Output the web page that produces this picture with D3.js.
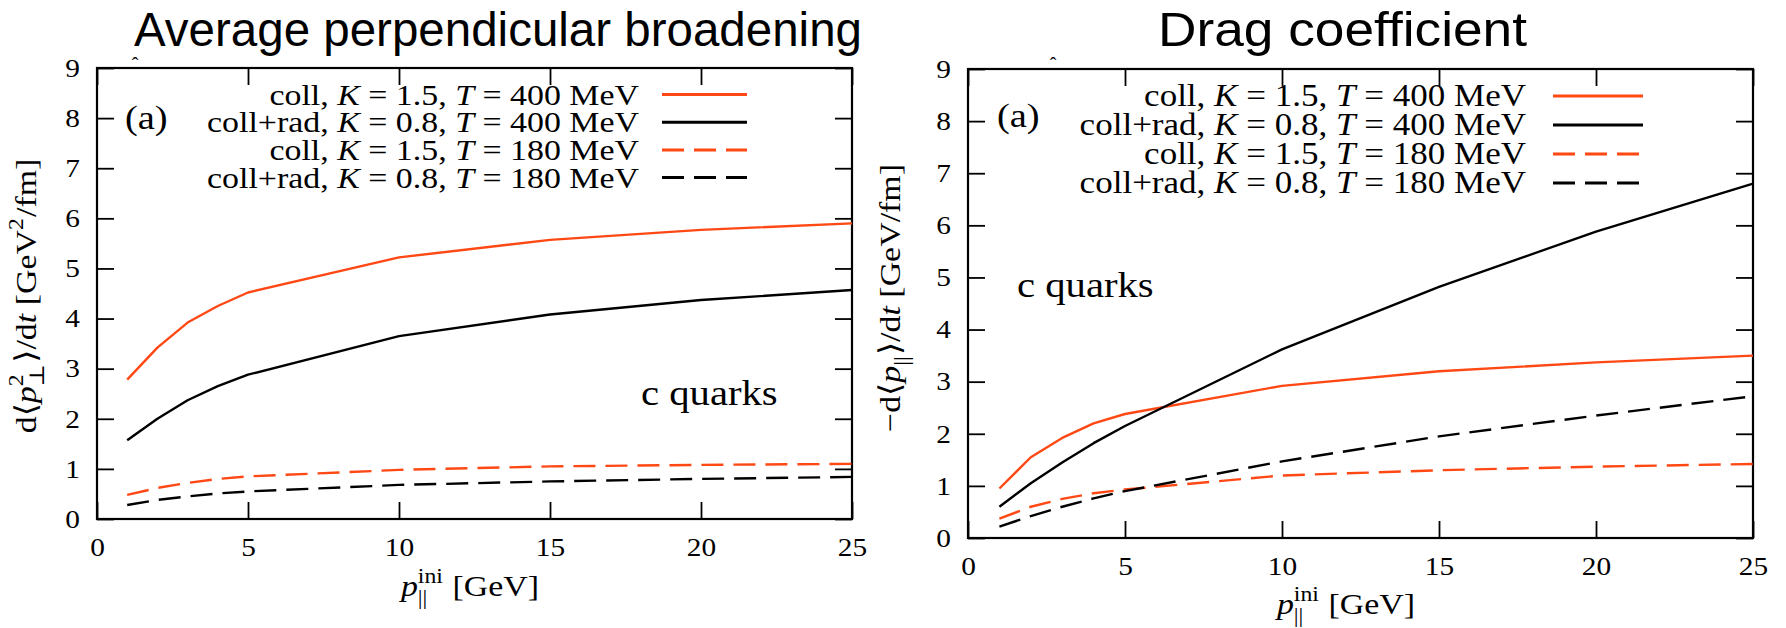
<!DOCTYPE html>
<html>
<head>
<meta charset="utf-8">
<script src="https://cdn.jsdelivr.net/npm/d3@7"></script>
<style>
  html, body { margin: 0; padding: 0; background: #fff; }
  svg { display: block; }
</style>
</head>
<body>
<svg id="chart" width="1786" height="628"></svg>
<script>
// initial longitudinal momentum grid (GeV)
const pIni = [1, 2, 3, 4, 5, 10, 15, 20, 25];

// average transverse broadening d<p_perp^2>/dt [GeV^2/fm]
const broadCollT400 = [2.78, 3.42, 3.92, 4.25, 4.52, 5.22, 5.57, 5.77, 5.90];
const broadRadT400  = [1.57, 2.00, 2.37, 2.65, 2.88, 3.65, 4.08, 4.37, 4.57];
const broadCollT180 = [0.48, 0.62, 0.72, 0.80, 0.85, 0.98, 1.05, 1.08, 1.10];
const broadRadT180  = [0.28, 0.38, 0.45, 0.51, 0.55, 0.68, 0.75, 0.80, 0.84];

// drag coefficient -d<p_par>/dt [GeV/fm]
const dragCollT400 = [0.95, 1.55, 1.92, 2.20, 2.38, 2.92, 3.20, 3.37, 3.50];
const dragRadT400  = [0.60, 1.05, 1.45, 1.82, 2.15, 3.62, 4.82, 5.88, 6.80];
const dragCollT180 = [0.37, 0.60, 0.75, 0.86, 0.93, 1.20, 1.30, 1.37, 1.42];
const dragRadT180  = [0.22, 0.42, 0.60, 0.76, 0.90, 1.47, 1.95, 2.35, 2.72];

const xTicks = [0, 5, 10, 15, 20, 25];
const yTicks = [0, 1, 2, 3, 4, 5, 6, 7, 8, 9];

const seriesLabels = [
  "coll, K = 1.5, T = 400 MeV",
  "coll+rad, K = 0.8, T = 400 MeV",
  "coll, K = 1.5, T = 180 MeV",
  "coll+rad, K = 0.8, T = 180 MeV"
];

const titles = ["Average perpendicular broadening", "Drag coefficient"];

// ---------------------------------------------------------------
const RED = "#ff4814";
const seriesColors = [RED, "#000", RED, "#000"];
const seriesDash = [null, null, "22,10", "22,10"];
const SERIF = "'Liberation Serif', 'Times New Roman', 'DejaVu Serif', serif";
const SANS = "'Liberation Sans', Arial, Helvetica, sans-serif";
const STRETCH = 1.13;   // widen the Times glyphs towards Computer Modern proportions
const TICK = 17;

const svg = d3.select("#chart");
svg.append("defs").append("clipPath").attr("id", "page")
  .append("rect").attr("x", 0).attr("y", 0).attr("width", 1771).attr("height", 628);
const root = svg.append("g").attr("clip-path", "url(#page)");

// text with italic maths letters and sub/superscripts
function rich(text, parts, fs) {
  let shift = 0, pendingDx = 0;
  parts.forEach(p => {
    if (p.stack) {
      const ss = fs * 0.7;
      const up = -0.42 * fs, down = 0.26 * fs;
      const sup = text.append("tspan").attr("font-size", ss).attr("dy", up - shift).attr("dx", pendingDx).text(p.sup);
      shift = up; pendingDx = 0;
      const supW = sup.node().getComputedTextLength();
      const sub = text.append("tspan").attr("font-size", ss).attr("dx", -supW).attr("dy", down - shift).text(p.sub);
      shift = down;
      const subW = sub.node().getComputedTextLength();
      pendingDx = Math.max(0, supW - subW) + 1;
    } else if (p.sup || p.sub) {
      const ss = fs * 0.7;
      const off = p.sup ? -0.42 * fs : 0.26 * fs;
      text.append("tspan").attr("font-size", ss).attr("dy", off - shift).attr("dx", pendingDx).text(p.sup || p.sub);
      shift = off; pendingDx = 1;
    } else {
      const dy = -shift; shift = 0;
      text.append("tspan").attr("dy", dy).attr("dx", pendingDx)
        .attr("font-style", p.it ? "italic" : "normal").text(p.t);
      pendingDx = 0;
    }
  });
}

function legendParts(label) {
  return label.split(/([KT])/).filter(s => s.length).map(s => ({ t: s, it: s === "K" || s === "T" }));
}

function serifGroup(parent, x, y, rot) {
  return parent.append("g")
    .attr("transform", `translate(${x},${y}) rotate(${rot || 0}) scale(${STRETCH},1)`);
}

const panels = [
  {
    left: 97, right: 852, top: 68, bottom: 519,
    series: [broadCollT400, broadRadT400, broadCollT180, broadRadT180],
    title: titles[0], titleX: 134, titleW: 728,
    legRight: 639, legX0: 662, legX1: 747, legRow0: 94.5, legStep: 27.7, legFs: 30,
    aX: 125, aY: 129, cqX: 641, cqY: 405, hatX: 135,
    yLabelX: 36, yLabelY: 296,
    yLabel: [{ t: "d⟨" }, { t: "p", it: true }, { stack: true, sup: "2", sub: "⊥" }, { t: "⟩/d" }, { t: "t", it: true },
             { t: " [GeV" }, { sup: "2" }, { t: "/fm]" }],
    xLabelX: 470, xLabelY: 596
  },
  {
    left: 968, right: 1753, top: 69, bottom: 538,
    series: [dragCollT400, dragRadT400, dragCollT180, dragRadT180],
    title: titles[1], titleX: 1158, titleW: 369,
    legRight: 1526, legX0: 1553, legX1: 1643, legRow0: 96, legStep: 29, legFs: 31,
    aX: 997, aY: 127, cqX: 1017, cqY: 297, hatX: 1053,
    yLabelX: 900, yLabelY: 298,
    yLabel: [{ t: "−d⟨" }, { t: "p", it: true }, { sub: "||" }, { t: "⟩/d" }, { t: "t", it: true }, { t: " [GeV/fm]" }],
    xLabelX: 1346, xLabelY: 614
  }
];

panels.forEach(cfg => {
  const x = d3.scaleLinear().domain([0, 25]).range([cfg.left, cfg.right]);
  const y = d3.scaleLinear().domain([0, 9]).range([cfg.bottom, cfg.top]);
  const g = root.append("g");

  // title
  g.append("text")
    .attr("x", cfg.titleX).attr("y", 46)
    .attr("font-family", SANS).attr("font-size", 48)
    .attr("textLength", cfg.titleW).attr("lengthAdjust", "spacingAndGlyphs")
    .text(cfg.title);

  // tick marks on all four sides, labels on bottom and left
  const styleAxis = (sel, labels) => {
    sel.select(".domain").remove();
    sel.selectAll(".tick line").attr("stroke", "#000").attr("stroke-width", 1.8);
    sel.selectAll(".tick text")
      .attr("font-family", SERIF).attr("font-size", labels ? 26 : 0).attr("fill", "#000");
    sel.attr("font-family", null).attr("font-size", null);
  };
  g.append("g").attr("transform", `translate(0,${cfg.bottom})`)
    .call(d3.axisBottom(x).tickValues(xTicks).tickSizeInner(-TICK).tickSizeOuter(0).tickPadding(19))
    .call(s => styleAxis(s, true))
    .call(s => s.selectAll(".tick text").attr("transform", `scale(${STRETCH},1)`));
  g.append("g").attr("transform", `translate(0,${cfg.top})`)
    .call(d3.axisTop(x).tickValues(xTicks).tickSizeInner(-TICK).tickSizeOuter(0).tickFormat(""))
    .call(s => styleAxis(s, false));
  g.append("g").attr("transform", `translate(${cfg.left},0)`)
    .call(d3.axisLeft(y).tickValues(yTicks).tickSizeInner(-TICK).tickSizeOuter(0).tickPadding(15))
    .call(s => styleAxis(s, true))
    .call(s => s.selectAll(".tick text").attr("transform", `scale(${STRETCH},1)`));
  g.append("g").attr("transform", `translate(${cfg.right},0)`)
    .call(d3.axisRight(y).tickValues(yTicks).tickSizeInner(-TICK).tickSizeOuter(0).tickFormat(""))
    .call(s => styleAxis(s, false));

  // frame
  g.append("rect")
    .attr("x", cfg.left).attr("y", cfg.top)
    .attr("width", cfg.right - cfg.left).attr("height", cfg.bottom - cfg.top)
    .attr("fill", "none").attr("stroke", "#000").attr("stroke-width", 2.2);

  // curves
  const line = d3.line().x(d => x(d[0])).y(d => y(d[1]));
  cfg.series.forEach((vals, i) => {
    g.append("path")
      .datum(d3.zip(pIni, vals))
      .attr("d", line)
      .attr("fill", "none")
      .attr("stroke", seriesColors[i])
      .attr("stroke-width", 2.4)
      .attr("stroke-dasharray", seriesDash[i])
      .attr("stroke-linejoin", "round");
  });

  // legend
  seriesLabels.forEach((label, i) => {
    const rowY = cfg.legRow0 + i * cfg.legStep;
    const t = serifGroup(g, cfg.legRight, rowY + 10).append("text")
      .attr("text-anchor", "end").attr("font-family", SERIF).attr("font-size", cfg.legFs);
    rich(t, legendParts(label), cfg.legFs);
    g.append("line")
      .attr("x1", cfg.legX0).attr("x2", cfg.legX1).attr("y1", rowY).attr("y2", rowY)
      .attr("stroke", seriesColors[i]).attr("stroke-width", 3)
      .attr("stroke-dasharray", seriesDash[i]);
  });

  // panel annotations
  serifGroup(g, cfg.aX, cfg.aY).append("text")
    .attr("font-family", SERIF).attr("font-size", 34).text("(a)");
  serifGroup(g, cfg.cqX, cfg.cqY).append("text")
    .attr("font-family", SERIF).attr("font-size", 36).text("c quarks");
  g.append("text").attr("x", cfg.hatX).attr("y", 72).attr("text-anchor", "middle")
    .attr("font-family", SERIF).attr("font-size", 20).text("ˆ");

  // axis titles
  const yl = serifGroup(g, cfg.yLabelX, cfg.yLabelY, -90).append("text")
    .attr("text-anchor", "middle").attr("font-family", SERIF).attr("font-size", 30);
  rich(yl, cfg.yLabel, 30);

  const xl = serifGroup(g, cfg.xLabelX, cfg.xLabelY).append("text")
    .attr("text-anchor", "middle").attr("font-family", SERIF).attr("font-size", 30);
  rich(xl, [{ t: "p", it: true }, { stack: true, sup: "ini", sub: "||" }, { t: " [GeV]" }], 30);
});
</script>
</body>
</html>
